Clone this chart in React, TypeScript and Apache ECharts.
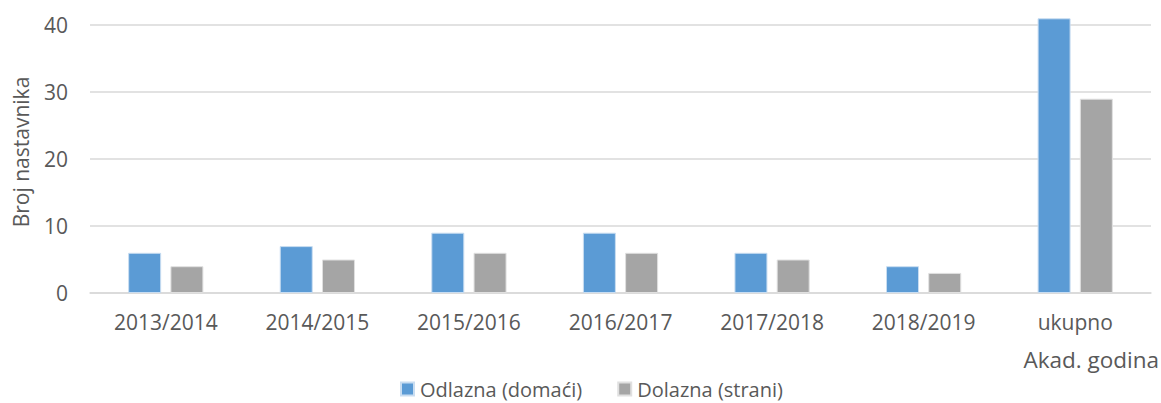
import React, { useEffect, useRef } from "react";
import * as echarts from "echarts";

const categories = ["2013/2014", "2014/2015", "2015/2016", "2016/2017", "2017/2018", "2018/2019", "ukupno"];
const odlazna = [6, 7, 9, 9, 6, 4, 41];
const dolazna = [4, 5, 6, 6, 5, 3, 29];
const seriesNames = ["Odlazna (domaći)", "Dolazna (strani)"];
const yTicks = [0, 10, 20, 30, 40];

const FONT = "'Open Sans', 'Noto Sans', sans-serif";
const TEXT = "#595959";

export default function App() {
  const ref = useRef<HTMLDivElement>(null);
  useEffect(() => {
    if (!ref.current) return;
    const chart = echarts.init(ref.current, null, { renderer: "svg" });
    chart.setOption({
      animation: false,
      textStyle: { fontFamily: FONT, color: TEXT },
      grid: { left: 90, right: 10, top: 25, bottom: 110, containLabel: false },
      legend: {
        left: 395,
        top: 374,
        icon: "rect",
        itemWidth: 13,
        itemHeight: 13,
        itemGap: 35,
        textStyle: { fontFamily: FONT, color: TEXT, fontSize: 20, padding: [0, 0, 0, 1] },
        data: seriesNames,
      },
      xAxis: {
        type: "category",
        data: categories,
        axisLine: { lineStyle: { color: "#D9D9D9", width: 1.5 } },
        axisTick: { show: false },
        axisLabel: { color: TEXT, fontSize: 21, fontFamily: FONT, margin: 18 },
      },
      yAxis: {
        type: "value",
        min: yTicks[0],
        max: yTicks[yTicks.length - 1],
        interval: 10,
        axisLine: { show: false },
        axisTick: { show: false },
        axisLabel: { color: TEXT, fontSize: 21, fontFamily: FONT, margin: 22 },
        splitLine: { lineStyle: { color: "#D9D9D9", width: 1.5 } },
      },
      graphic: [
        {
          type: "text",
          x: 21,
          y: 152,
          rotation: Math.PI / 2,
          style: {
            text: "Broj nastavnika",
            fill: TEXT,
            font: `21px ${FONT}`,
            align: "center",
            verticalAlign: "middle",
          },
        },
        {
          type: "text",
          x: 1159,
          y: 359,
          style: {
            text: "Akad. godina",
            fill: TEXT,
            font: `22.5px ${FONT}`,
            align: "right",
            verticalAlign: "middle",
          },
        },
      ],
      series: [
        {
          name: seriesNames[0],
          type: "bar",
          data: odlazna,
          barWidth: 33,
          barGap: "28%",
          clip: false,
          itemStyle: { color: "#5B9BD5", borderColor: "#C9DDF1", borderWidth: 1 },
        },
        {
          name: seriesNames[1],
          type: "bar",
          data: dolazna,
          barWidth: 33,
          barGap: "28%",
          clip: false,
          itemStyle: { color: "#A5A5A5", borderColor: "#E0E0E0", borderWidth: 1 },
        },
      ],
    });
    return () => chart.dispose();
  }, []);
  return <div ref={ref} style={{ width: 1161, height: 403, position: "absolute", left: 0, top: 0 }} />;
}
